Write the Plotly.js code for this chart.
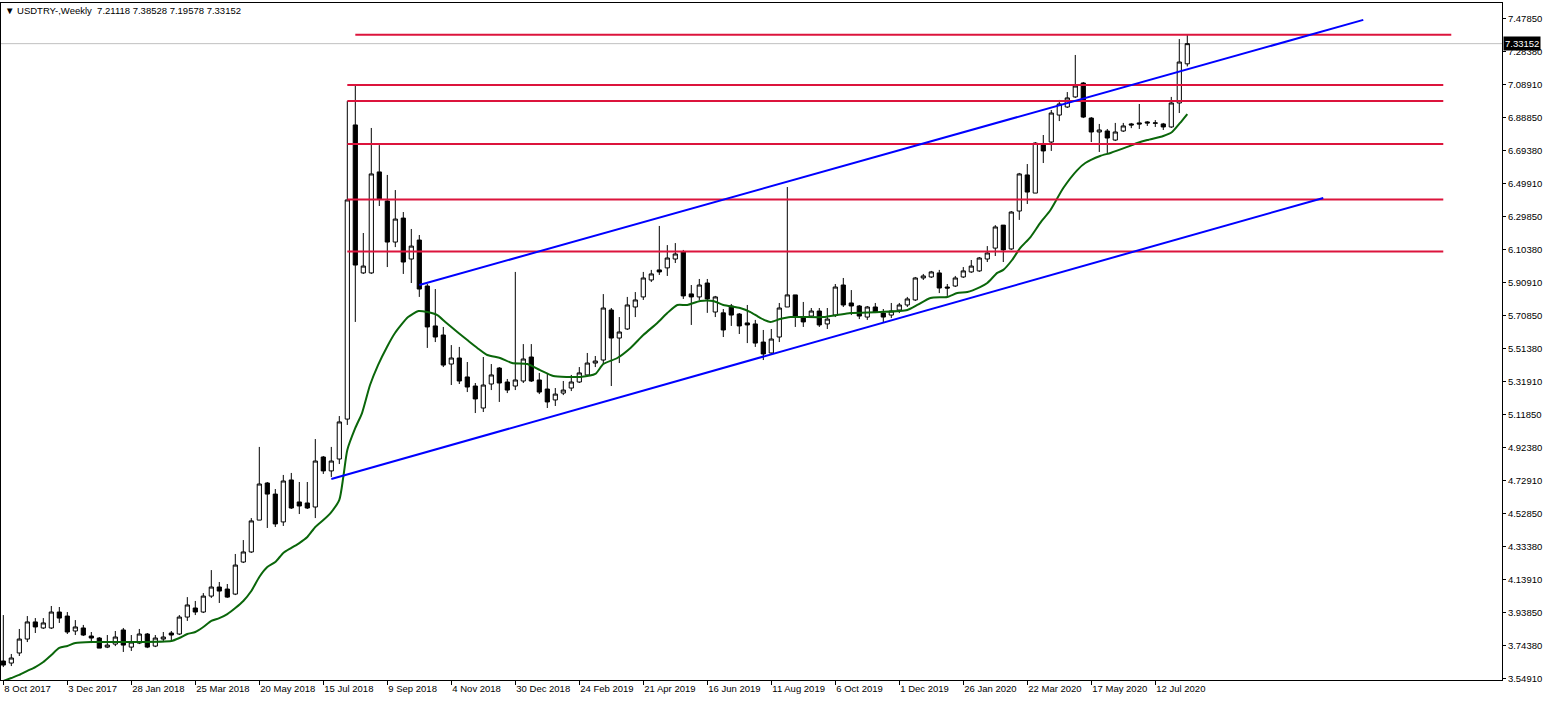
<!DOCTYPE html>
<html><head><meta charset="utf-8">
<script src="https://cdn.plot.ly/plotly-3.0.1.min.js"></script>
<style>html,body{margin:0;padding:0;background:#fff;overflow:hidden}#chart{width:1548px;height:703px;}</style>
</head><body><div id="chart"></div>
<script>
// ---- data ----
const headerText = '\u25BC USDTRY-,Weekly  7.21118 7.38528 7.19578 7.33152';
const lastClose = 7.33152;
const tickIndex = [0,8,16,24,32,40,48,56,64,72,80,88,96,104,112,120,128,136,144];
const tickLabels = ['8 Oct 2017','3 Dec 2017','28 Jan 2018','25 Mar 2018','20 May 2018','15 Jul 2018','9 Sep 2018','4 Nov 2018','30 Dec 2018','24 Feb 2019','21 Apr 2019','16 Jun 2019','11 Aug 2019','6 Oct 2019','1 Dec 2019','26 Jan 2020','22 Mar 2020','17 May 2020','12 Jul 2020'];
const priceTicks = [3.54910,3.74380,3.93850,4.13910,4.33380,4.52850,4.72910,4.92380,5.11850,5.31910,5.51380,5.70850,5.90910,6.10380,6.29850,6.49910,6.69380,6.88850,7.08910,7.28380,7.47850];

const openP = [3.652,3.640,3.700,3.783,3.885,3.849,3.849,3.944,3.920,3.831,
3.849,3.801,3.789,3.735,3.753,3.837,3.735,3.759,3.813,3.741,
3.783,3.819,3.813,3.914,3.968,3.944,4.039,4.093,4.081,4.051,
4.242,4.302,4.492,4.713,4.647,4.481,4.731,4.600,4.594,4.570,
4.868,4.785,4.856,5.094,6.847,5.965,5.965,6.567,6.394,6.149,
6.292,6.048,6.161,5.887,5.649,5.595,5.422,5.458,5.345,5.291,
5.160,5.303,5.398,5.315,5.291,5.321,5.464,5.327,5.273,5.208,
5.249,5.279,5.315,5.357,5.428,5.446,5.744,5.577,5.631,5.762,
5.822,5.923,5.983,5.995,6.048,6.090,5.840,5.822,5.905,5.732,
5.727,5.768,5.720,5.667,5.661,5.553,5.488,5.583,5.762,5.834,
5.702,5.708,5.738,5.661,5.714,5.893,5.786,5.768,5.702,5.762,
5.726,5.714,5.744,5.774,5.804,5.935,5.941,5.965,5.881,5.887,
5.941,5.971,5.977,6.048,6.113,6.250,6.108,6.334,6.549,6.441,
6.727,6.745,6.906,6.954,7.014,7.097,6.888,6.805,6.811,6.757,
6.811,6.853,6.859,6.865,6.857,6.853,6.835,6.978,7.21118];
const highP = [3.926,3.694,3.843,3.920,3.908,3.908,3.980,3.974,3.944,3.896,
3.867,3.825,3.795,3.807,3.831,3.849,3.807,3.843,3.819,3.807,
3.825,3.831,3.926,4.033,4.010,4.057,4.194,4.123,4.111,4.290,
4.373,4.504,4.928,4.719,4.677,4.761,4.773,4.719,4.719,4.975,
4.874,4.928,5.112,6.990,7.085,6.203,6.829,6.727,6.549,6.459,
6.328,6.227,6.191,5.899,5.869,5.643,5.535,5.524,5.434,5.309,
5.464,5.422,5.404,5.333,5.971,5.541,5.541,5.369,5.363,5.279,
5.321,5.357,5.404,5.488,5.470,5.839,5.756,5.702,5.822,5.851,
5.971,5.983,6.245,6.131,6.143,6.102,5.893,5.929,5.929,5.828,
5.750,5.780,5.726,5.774,5.685,5.625,5.631,5.786,6.477,5.834,
5.792,5.756,5.756,5.756,5.899,5.935,5.863,5.774,5.768,5.786,
5.750,5.786,5.786,5.822,5.941,5.959,5.977,5.983,5.899,5.947,
6.000,6.042,6.060,6.125,6.250,6.250,6.334,6.561,6.614,6.745,
6.787,6.936,6.996,7.043,7.264,7.103,6.894,6.853,6.823,6.859,
6.859,6.859,6.972,6.870,6.876,6.859,7.014,7.359,7.38528];
const lowP = [3.616,3.622,3.682,3.765,3.819,3.843,3.843,3.879,3.813,3.807,
3.801,3.759,3.729,3.729,3.741,3.706,3.712,3.753,3.729,3.735,
3.765,3.777,3.807,3.891,3.926,3.938,4.028,3.998,4.028,4.045,
4.236,4.296,4.492,4.445,4.451,4.457,4.558,4.528,4.558,4.504,
4.767,4.749,4.826,5.059,5.673,5.959,5.959,6.364,6.000,6.119,
5.959,5.905,5.822,5.518,5.553,5.404,5.297,5.303,5.255,5.130,
5.136,5.267,5.196,5.249,5.267,5.309,5.315,5.243,5.160,5.172,
5.237,5.261,5.309,5.351,5.404,5.422,5.291,5.428,5.625,5.702,
5.804,5.911,5.953,5.947,6.024,5.810,5.655,5.804,5.727,5.702,
5.583,5.649,5.601,5.547,5.524,5.446,5.482,5.553,5.762,5.643,
5.643,5.702,5.643,5.631,5.702,5.762,5.714,5.690,5.685,5.726,
5.667,5.696,5.726,5.762,5.798,5.923,5.935,5.845,5.828,5.881,
5.935,5.965,5.971,6.030,6.066,6.030,6.102,6.281,6.376,6.441,
6.620,6.692,6.870,6.948,7.008,6.888,6.745,6.686,6.680,6.751,
6.805,6.828,6.823,6.841,6.835,6.817,6.829,6.918,7.19578];
const closeP = [3.628,3.670,3.783,3.885,3.855,3.879,3.944,3.908,3.825,3.855,
3.807,3.789,3.729,3.747,3.795,3.747,3.765,3.813,3.735,3.789,
3.795,3.807,3.914,3.986,3.944,4.039,4.093,4.069,4.033,4.224,
4.302,4.487,4.707,4.647,4.469,4.725,4.564,4.576,4.564,4.844,
4.785,4.844,5.077,6.400,6.012,6.006,6.555,6.406,6.149,6.286,
6.030,6.125,5.869,5.643,5.583,5.416,5.458,5.321,5.285,5.214,
5.297,5.357,5.309,5.267,5.327,5.452,5.321,5.255,5.196,5.243,
5.267,5.315,5.369,5.428,5.440,5.756,5.577,5.613,5.774,5.804,
5.935,5.959,5.971,6.054,6.078,5.828,5.822,5.893,5.810,5.822,
5.625,5.714,5.649,5.655,5.547,5.482,5.571,5.756,5.834,5.708,
5.673,5.738,5.655,5.690,5.881,5.774,5.768,5.708,5.762,5.732,
5.702,5.738,5.774,5.810,5.935,5.947,5.971,5.875,5.875,5.935,
5.977,6.006,6.054,6.084,6.239,6.102,6.328,6.555,6.447,6.739,
6.692,6.918,6.972,7.008,7.079,6.894,6.805,6.817,6.769,6.805,
6.841,6.847,6.853,6.859,6.859,6.835,6.978,7.222,7.33152];

// moving average (bar index, price)
const maIndex = [0,1,2,3,4,5,6,7,8,9,11,16,21,22,23,24,25,26,27,28,29,30,31,32,33,34,35,36,37,38,39,40,41,42,42.5,43,44,44.84,45.84,46.84,47.96,48.96,50.6,51.9,53,54.25,55.25,56.75,58,59.25,60.5,62.1,63.6,65.5,67.1,68.75,70.5,72.1,74,75,76.75,78.4,80,81.75,83,84.25,85.5,87.1,88.75,90,92.1,93.4,94.6,95.9,97.1,98.4,102.5,104.25,105.9,109.6,113,114.25,115.9,118,119.25,120.5,122.1,123,124.25,125,126.1,127.1,128.4,129.6,130.9,132.5,134.25,135.25,137.1,138.4,140.5,141.75,143,145,146.1,147.1,148];
const maValue = [3.533,3.551,3.569,3.593,3.616,3.646,3.688,3.730,3.742,3.759,3.765,3.765,3.771,3.789,3.813,3.825,3.855,3.891,3.908,3.932,3.968,4.010,4.069,4.153,4.212,4.242,4.296,4.326,4.355,4.391,4.451,4.492,4.540,4.612,4.749,4.910,5.041,5.130,5.297,5.416,5.524,5.607,5.702,5.738,5.732,5.714,5.673,5.613,5.565,5.518,5.476,5.458,5.428,5.422,5.386,5.351,5.345,5.345,5.363,5.422,5.458,5.518,5.595,5.667,5.726,5.774,5.774,5.798,5.798,5.774,5.756,5.732,5.697,5.673,5.690,5.702,5.702,5.714,5.726,5.732,5.744,5.774,5.816,5.822,5.845,5.851,5.881,5.905,5.965,5.983,6.042,6.113,6.179,6.262,6.340,6.471,6.578,6.620,6.662,6.680,6.716,6.739,6.757,6.781,6.805,6.859,6.912];

// horizontal levels (price, first bar, last bar)
const levelPrice = [7.38528,7.085,6.990,6.734,6.403,6.093];
const levelFrom = [44,43,43,43,43,43];
const levelTo = [181,180,180,180,180,180];

// channel lines (bar index, price)
const lowerIdx = [41,165], lowerVal = [4.737,6.412];
const upperIdx = [52,170], upperVal = [5.893,7.473];

// ---- chart ----
const barIdx = closeP.map((_, i) => i);
const fontAxis = {family:'Liberation Sans, Arial, sans-serif', size:9.5, color:'#000'};
const traces = [];
traces.push({type:'candlestick', x:barIdx, open:openP, high:highP, low:lowP, close:closeP,
  increasing:{line:{color:'#000',width:1}, fillcolor:'#ffffff'},
  decreasing:{line:{color:'#000',width:1}, fillcolor:'#000000'},
  whiskerwidth:0, hoverinfo:'skip', showlegend:false});
traces.push({type:'scatter', mode:'lines', x:maIndex, y:maValue,
  line:{color:'#0a660a', width:2, shape:'spline', smoothing:0.6}, hoverinfo:'skip'});
levelPrice.forEach((p, k) => traces.push({type:'scatter', mode:'lines',
  x:[levelFrom[k], levelTo[k]], y:[p, p], line:{color:'#dc143c', width:2}, hoverinfo:'skip'}));
traces.push({type:'scatter', mode:'lines', x:lowerIdx, y:lowerVal, line:{color:'#0000ff', width:2}, hoverinfo:'skip'});
traces.push({type:'scatter', mode:'lines', x:upperIdx, y:upperVal, line:{color:'#0000ff', width:2}, hoverinfo:'skip'});

const layout = {
  width:1548, height:703,
  margin:{l:1, r:46, t:3, b:23, pad:0},
  paper_bgcolor:'#ffffff', plot_bgcolor:'#ffffff',
  showlegend:false, hovermode:false,
  boxgap:0.25, boxgroupgap:0.3,
  xaxis:{range:[-0.29, 187.34], showgrid:false, zeroline:false, showline:true, mirror:true,
    linecolor:'#000', linewidth:1, tickmode:'array', tickvals:tickIndex, ticktext:tickLabels,
    ticks:'outside', ticklen:4, tickcolor:'#000', tickwidth:1,
    ticklabelposition:'outside right', tickfont:fontAxis,
    rangeslider:{visible:false}, fixedrange:true},
  yaxis:{side:'right', range:[3.5389, 7.5738], showgrid:false, zeroline:false, showline:true, mirror:true,
    linecolor:'#000', linewidth:1, tickmode:'array', tickvals:priceTicks,
    ticktext:priceTicks.map(v => v.toFixed(5)), ticks:'outside', ticklen:3, tickcolor:'#000',
    tickfont:fontAxis, fixedrange:true},
  shapes:[{type:'line', xref:'paper', x0:0, x1:1, yref:'y', y0:lastClose, y1:lastClose,
    line:{color:'#c0c0c0', width:1}, layer:'below'}],
  annotations:[
    {xref:'paper', x:0, xanchor:'left', xshift:3, yref:'paper', y:1, yanchor:'top', yshift:-1,
     text:headerText, showarrow:false, font:{family:'Liberation Sans, Arial, sans-serif', size:9.5, color:'#000'},
     borderpad:0},
    {xref:'paper', x:1, xanchor:'left', xshift:1, yref:'y', y:lastClose, yanchor:'middle',
     text:lastClose.toFixed(5), showarrow:false, bgcolor:'#000', borderpad:1,
     font:{family:'Liberation Sans, Arial, sans-serif', size:9.5, color:'#fff'}}
  ]
};
Plotly.newPlot('chart', traces, layout, {displayModeBar:false, staticPlot:true});
</script>
</body></html>
